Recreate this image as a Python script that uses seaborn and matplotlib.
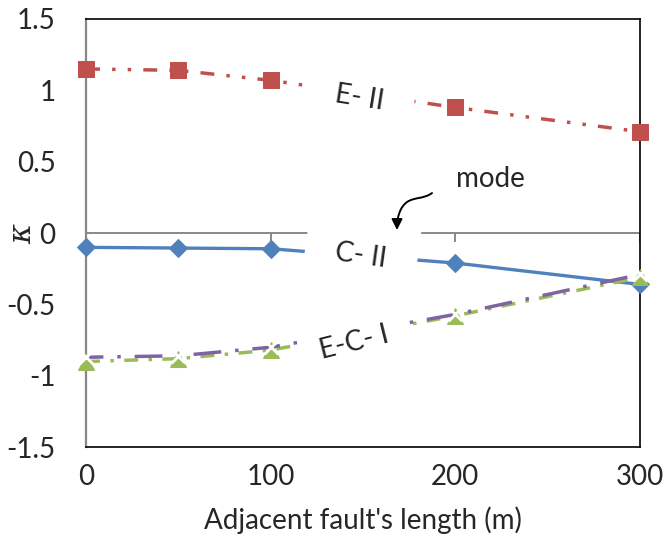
import matplotlib
matplotlib.use("Agg")
import matplotlib.pyplot as plt
from matplotlib.patches import FancyArrowPatch
from matplotlib.path import Path
import seaborn as sns
import numpy as np
import pandas as pd

# ---- data ----
lengths = [0, 50, 100, 200, 300]
kappa_E_II = [1.15, 1.14, 1.07, 0.88, 0.71]
kappa_C_II = [-0.10, -0.105, -0.11, -0.21, -0.36]
kappa_ECI_x = [-0.87, -0.86, -0.80, -0.57, -0.29]
kappa_ECI_tri = [-0.90, -0.88, -0.82, -0.58, -0.31]
y_ticks = [1.5, 1, 0.5, 0, -0.5, -1, -1.5]
y_ticklabels = ["1.5", "1", "0.5", "0", "-0.5", "-1", "-1.5"]
x_ticks = [0, 100, 200, 300]
x_ticklabels = ["0", "100", "200", "300"]
x_label = "Adjacent fault's length (m)"
y_label = r"$\kappa$"

sns.set_style("white")
plt.rcParams['font.family'] = ['Lato', 'DejaVu Sans']
plt.rcParams['mathtext.fontset'] = 'dejavuserif'

fig = plt.figure(figsize=(6.67, 5.42), dpi=100)
ax = fig.add_axes([0.129, 0.175, 0.8305, 0.79])

FS = 20

sns.lineplot(x=lengths, y=kappa_E_II, ax=ax, color="#C0504D", marker="s",
             markersize=11.5, markeredgecolor="#C0504D", lw=2.5,
             linestyle=(0, (4, 3.5, 1, 3.5, 1, 3.5)), zorder=3, clip_on=False)
sns.lineplot(x=lengths, y=kappa_C_II, ax=ax, color="#4F81BD", marker="D",
             markersize=9.5, markeredgecolor="#4F81BD", lw=2.4, zorder=3,
             clip_on=False)
sns.lineplot(x=lengths, y=kappa_ECI_tri, ax=ax, color="#9BBB59", marker="^",
             markersize=12, markeredgecolor="#9BBB59", lw=2.5,
             linestyle=(0, (4, 3, 1, 3)), zorder=3, clip_on=False)
sns.lineplot(x=lengths, y=kappa_ECI_x, ax=ax, color="#8064A2", marker="x",
             markersize=10, markeredgewidth=2, lw=2.5,
             linestyle=(3, (8, 4, 1, 4)), zorder=3, clip_on=False)

ax.set_xlim(0, 300)
ax.set_ylim(-1.5, 1.5)

# horizontal axis line at 0 with ticks
ax.axhline(0, color="#888888", lw=1.4, zorder=2)
ax.vlines(x_ticks[1:], -0.06, 0, color="#888888", lw=1.4, zorder=2)

ax.set_yticks(y_ticks)
ax.set_yticklabels(y_ticklabels, fontsize=FS)
ax.set_xticks(x_ticks)
ax.set_xticklabels(x_ticklabels, fontsize=FS)
ax.tick_params(axis='y', direction='in', length=7, color="#888888", width=1.4, pad=22)
ax.tick_params(axis='x', length=0, pad=12)
ax.set_xlabel(x_label, fontsize=FS, labelpad=12)
ax.set_ylabel(y_label, fontsize=FS + 2, rotation=90)
ax.yaxis.set_label_coords(-0.09, 0.5)

for s in ["top", "right", "bottom"]:
    ax.spines[s].set_color("black")
    ax.spines[s].set_linewidth(1.2)
ax.spines["left"].set_color("#888888")
ax.spines["left"].set_linewidth(1.6)

box = dict(facecolor="white", edgecolor="none", pad=22)
ax.text(148, 0.95, "E- II", fontsize=FS, rotation=-9, ha="center", va="center",
        bbox=box, zorder=5)
ax.text(149, -0.155, "C- II", fontsize=FS, rotation=-8, ha="center", va="center",
        bbox=box, zorder=5)
ax.text(145, -0.77, "E-C- I", fontsize=FS, rotation=14, ha="center", va="center",
        bbox=dict(facecolor="white", edgecolor="none", pad=14), zorder=5)
ax.text(219, 0.38, "mode", fontsize=FS, ha="center", va="center", zorder=5)


def px2d(px, py):
    return ((px - 86) / 554 * 300, (232 - py) / 142.7)


verts = [px2d(432, 192), px2d(424, 198), px2d(414, 196), px2d(407, 201),
         px2d(400, 206), px2d(397, 216), px2d(397, 229)]
codes = [Path.MOVETO, Path.CURVE4, Path.CURVE4, Path.CURVE4,
         Path.CURVE4, Path.CURVE4, Path.CURVE4]
arrow = FancyArrowPatch(path=Path(verts, codes), arrowstyle="-|>",
                        mutation_scale=16, color="black", lw=1.4, zorder=6)
ax.add_patch(arrow)

fig.savefig("out.png", dpi=100)
